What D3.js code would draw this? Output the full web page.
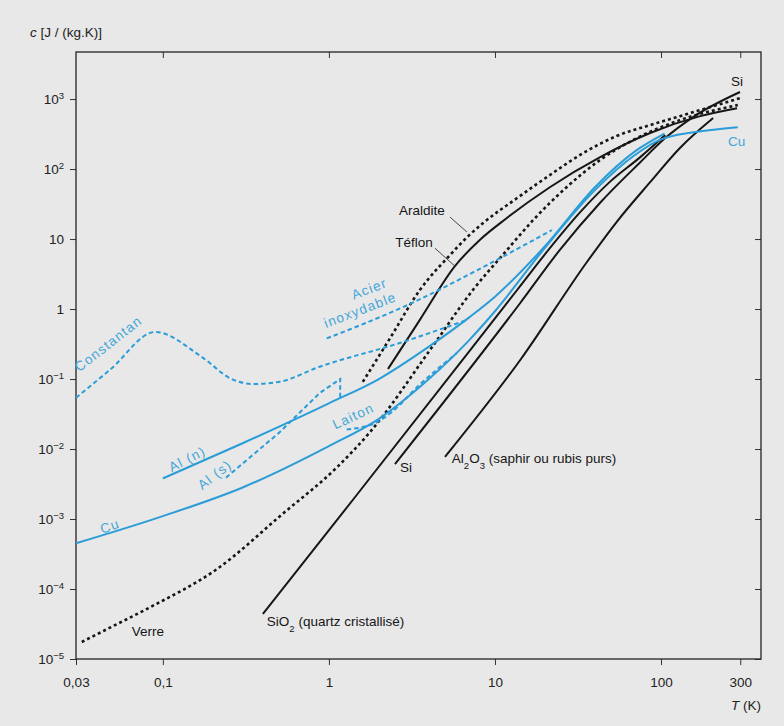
<!DOCTYPE html>
<html>
  <head>
    <meta charset="utf-8">
    <title>Capacité thermique massique</title>
    <script src="https://d3js.org/d3.v7.min.js"></script>
    <style>
      body { margin: 0; background: #e8e8e8; }
      svg { display: block; }
    </style>
  </head>
  <body>
    <svg width="784" height="726"></svg>
    <script>
      // graduations
      var xTicks = [0.03, 0.1, 1, 10, 100, 300];
      var xTickLabels = ["0,03", "0,1", "1", "10", "100", "300"];
      var yExponents = [-5, -4, -3, -2, -1, 0, 1, 2, 3];

      // courbes : T (K) et c (J/(kg.K))
      var cuT = [0.03, 0.1, 0.3, 1, 2, 4, 7, 10, 20, 40, 70, 100, 200, 290];
      var cuC = [4.5e-4, 1.1e-3, 2.8e-3, 0.011, 0.027, 0.10, 0.36, 0.93, 7.5, 50, 160, 265, 360, 395];

      var alNT = [0.1, 0.3, 1, 2, 4, 7, 10, 20, 40, 70, 105];
      var alNC = [3.8e-3, 0.012, 0.045, 0.10, 0.29, 0.76, 1.5, 7.9, 55, 180, 320];

      var alST = [0.24, 0.5, 0.88, 1.17, 1.17];
      var alSC = [0.0039, 0.017, 0.063, 0.10, 0.054];

      var constantanT = [0.03, 0.048, 0.09, 0.17, 0.26, 0.35, 0.5, 0.88, 2.7, 6.8];
      var constantanC = [0.054, 0.135, 0.47, 0.21, 0.10, 0.085, 0.091, 0.15, 0.33, 0.70];

      var acierT = [0.97, 3, 9.7, 22];
      var acierC = [0.38, 1.15, 4.7, 13.4];

      var laitonT = [1.28, 1.9, 2.4, 3.5, 5.9];
      var laitonC = [0.019, 0.0235, 0.034, 0.082, 0.235];

      var verreT = [0.0325, 0.048, 0.084, 0.21, 0.53, 1.12, 1.77, 4.2, 7.4, 11.2, 17, 27, 43, 68, 130, 290];
      var verreC = [1.75e-5, 2.8e-5, 5.5e-5, 1.9e-4, 1.2e-3, 5.5e-3, 0.0175, 0.29, 1.9, 6.0, 18.7, 55, 135, 260, 500, 820];

      var aralditeT = [1.6, 2.33, 3.53, 5.36, 6.9, 8.5, 13.6, 21.4, 34, 54, 86, 130, 299];
      var aralditeC = [0.091, 0.38, 1.87, 5.9, 11, 17, 38.5, 82, 169, 296, 425, 570, 1030];

      var teflonT = [2.27, 3.53, 5.74, 8.1, 11.8, 21.4, 43, 86, 172, 287];
      var teflonC = [0.139, 0.70, 4.1, 9.7, 20, 55, 148, 327, 570, 740];

      var sio2T = [0.4, 1.4, 13.6, 21.4, 32.5, 49, 75, 106];
      var sio2C = [4.4e-5, 1.9e-3, 1.87, 7.4, 24, 65, 148, 306];

      var siT = [2.5, 14.2, 24.6, 43, 75, 106, 156, 299];
      var siC = [6.1e-3, 1.22, 7.0, 33, 125, 277, 553, 1260];

      var al2o3T = [5.0, 14.2, 35.8, 54, 86, 130, 206];
      var al2o3C = [7.7e-3, 0.187, 4.7, 17.5, 65, 200, 535];

      var black = "#161616",
          blue = "#2a9dd8",
          blueText = "#45a6d8",
          font = "'Liberation Sans', Arial, sans-serif";

      var margin = { top: 52, right: 23, bottom: 67, left: 76 },
          width = 784 - margin.left - margin.right,
          height = 726 - margin.top - margin.bottom;

      var svg = d3.select("svg")
          .attr("width", 784)
          .attr("height", 726)
          .style("background-color", "#e8e8e8")
          .attr("font-family", font);

      var g = svg.append("g")
          .attr("transform", "translate(" + margin.left + "," + margin.top + ")");

      var x = d3.scaleLog().domain([0.03, 400]).range([0, width]);
      var y = d3.scaleLog().domain([1e-5, 4700]).range([height, 0]);

      // axes (graduations extérieures en bas / à gauche, intérieures en haut / à droite)
      function styleAxis(a) {
        a.select(".domain").remove();
        a.selectAll("line").attr("stroke", "#333");
        a.attr("font-family", font).attr("font-size", 13.5);
        a.selectAll("text").attr("fill", "#222");
      }

      g.append("g")
          .attr("transform", "translate(0," + height + ")")
          .call(d3.axisBottom(x).tickValues(xTicks)
                .tickFormat(function(d, i) { return xTickLabels[i]; })
                .tickSize(6).tickPadding(12))
          .call(styleAxis);

      g.append("g")
          .call(d3.axisBottom(x).tickValues(xTicks.slice(1)).tickFormat("").tickSize(6))
          .call(styleAxis);

      var yTicks = yExponents.map(function(e) { return Math.pow(10, e); });

      g.append("g")
          .call(d3.axisLeft(y).tickValues(yTicks).tickFormat("").tickSize(6))
          .call(styleAxis);

      g.append("g")
          .attr("transform", "translate(" + width + ",0)")
          .call(d3.axisLeft(y).tickValues(yTicks).tickFormat("").tickSize(6))
          .call(styleAxis);

      var yLabels = g.selectAll(".ylab")
          .data(yExponents)
          .enter()
          .append("text")
          .attr("class", "ylab")
          .attr("x", -12)
          .attr("y", function(e) { return y(Math.pow(10, e)); })
          .attr("dy", "0.35em")
          .attr("text-anchor", "end")
          .attr("font-size", 13.5)
          .attr("fill", "#222");

      yLabels.each(function(e) {
        var t = d3.select(this);
        if (e === 0) { t.text("1"); return; }
        t.append("tspan").text("10");
        if (e !== 1) {
          t.append("tspan")
              .attr("baseline-shift", "super")
              .attr("font-size", 9.5)
              .text(e < 0 ? "\u2212" + (-e) : e);
        }
      });

      // cadre
      g.append("rect")
          .attr("width", width)
          .attr("height", height)
          .attr("fill", "none")
          .attr("stroke", "#222")
          .attr("stroke-width", 1.3);

      // titres des axes
      var yTitle = svg.append("text").attr("x", 30).attr("y", 37).attr("font-size", 13.5).attr("fill", "#222");
      yTitle.append("tspan").attr("font-style", "italic").text("c");
      yTitle.append("tspan").text("  [J / (kg.K)]");

      var xTitle = svg.append("text").attr("x", 731).attr("y", 710).attr("font-size", 13.5).attr("fill", "#222");
      xTitle.append("tspan").attr("font-style", "italic").text("T");
      xTitle.append("tspan").text(" (K)");

      // courbes
      var dotted = "3,3", dashed = "4.5,3";
      var curves = [
        { T: verreT, c: verreC, color: black, dash: dotted, w: 2.6 },
        { T: aralditeT, c: aralditeC, color: black, dash: dotted, w: 2.6 },
        { T: teflonT, c: teflonC, color: black, w: 2 },
        { T: sio2T, c: sio2C, color: black, w: 2 },
        { T: siT, c: siC, color: black, w: 2 },
        { T: al2o3T, c: al2o3C, color: black, w: 2 },
        { T: constantanT, c: constantanC, color: blue, dash: dashed, w: 2 },
        { T: acierT, c: acierC, color: blue, dash: dashed, w: 2 },
        { T: laitonT, c: laitonC, color: blue, dash: dashed, w: 2 },
        { T: alST, c: alSC, color: blue, dash: dashed, w: 2, linear: true },
        { T: alNT, c: alNC, color: blue, w: 2 },
        { T: cuT, c: cuC, color: blue, w: 2 }
      ];

      var smooth = d3.line()
          .x(function(d) { return x(d[0]); })
          .y(function(d) { return y(d[1]); })
          .curve(d3.curveMonotoneX);
      var straight = d3.line()
          .x(function(d) { return x(d[0]); })
          .y(function(d) { return y(d[1]); });

      curves.forEach(function(cv) {
        var pts = cv.T.map(function(t, i) { return [t, cv.c[i]]; });
        g.append("path")
            .datum(pts)
            .attr("d", cv.linear ? straight : smooth)
            .attr("fill", "none")
            .attr("stroke", cv.color)
            .attr("stroke-width", cv.w)
            .attr("stroke-dasharray", cv.dash || null);
      });

      // flèches Araldite / Téflon
      var pointers = [
        { from: [5.36, 20.6], to: [6.78, 12.6] },
        { from: [4.35, 7.4], to: [5.74, 4.1] }
      ];
      g.selectAll(".pointer")
          .data(pointers)
          .enter()
          .append("line")
          .attr("class", "pointer")
          .attr("x1", function(d) { return x(d.from[0]); })
          .attr("y1", function(d) { return y(d.from[1]); })
          .attr("x2", function(d) { return x(d.to[0]); })
          .attr("y2", function(d) { return y(d.to[1]); })
          .attr("stroke", "#333")
          .attr("stroke-width", 0.9);

      // étiquettes (segments : [texte, "sub" éventuel])
      var labels = [
        { parts: [["Constantan"]], T: 0.047, c: 0.32, angle: -38, color: blueText, anchor: "middle", ls: 1.2 },
        { parts: [["Al (n)"]], T: 0.14, c: 0.0072, angle: -27, color: blueText, anchor: "middle", ls: 1.2 },
        { parts: [["Al (s)"]], T: 0.205, c: 0.0043, angle: -38, color: blueText, anchor: "middle", ls: 1.2 },
        { parts: [["Cu"]], T: 0.048, c: 7.9e-4, angle: -20, color: blueText, anchor: "middle", ls: 1.2 },
        { parts: [["Laiton"]], T: 1.40, c: 0.0296, angle: -25, color: blueText, anchor: "middle", ls: 1.2 },
        { parts: [["Acier"]], T: 1.75, c: 1.95, angle: -21, color: blueText, anchor: "middle", ls: 1.2 },
        { parts: [["inoxydable"]], T: 1.54, c: 0.97, angle: -21, color: blueText, anchor: "middle", ls: 1.2 },
        { parts: [["Cu"]], T: 285, c: 251, angle: 0, color: blueText, anchor: "middle" },
        { parts: [["Araldite"]], T: 3.63, c: 26, angle: 0, color: black, anchor: "middle" },
        { parts: [["Téflon"]], T: 3.25, c: 9.1, angle: 0, color: black, anchor: "middle" },
        { parts: [["Si"]], T: 287, c: 1810, angle: 0, color: black, anchor: "middle" },
        { parts: [["Si"]], T: 2.68, c: 4.7e-3, angle: 0, color: black, anchor: "start", base: true },
        { parts: [["Al"], ["2", "sub"], ["O"], ["3", "sub"], [" (saphir ou rubis purs)"]], T: 5.5, c: 6.3e-3, angle: 0, color: black, anchor: "start", base: true },
        { parts: [["SiO"], ["2", "sub"], [" (quartz cristallisé)"]], T: 0.423, c: 2.96e-5, angle: 0, color: black, anchor: "start", base: true },
        { parts: [["Verre"]], T: 0.065, c: 2.13e-5, angle: 0, color: black, anchor: "start", base: true }
      ];

      labels.forEach(function(l) {
        var px = x(l.T), py = y(l.c);
        var t = g.append("text")
            .attr("transform", "translate(" + px + "," + py + ") rotate(" + l.angle + ")")
            .attr("text-anchor", l.anchor)
            .attr("dy", l.base ? 0 : "0.35em")
            .attr("font-size", 13.5)
            .attr("letter-spacing", l.ls || 0)
            .attr("fill", l.color);
        l.parts.forEach(function(p) {
          var s = t.append("tspan").text(p[0]);
          if (p[1] === "sub") s.attr("baseline-shift", "sub").attr("font-size", 9.5);
        });
      });
    </script>
  </body>
</html>
